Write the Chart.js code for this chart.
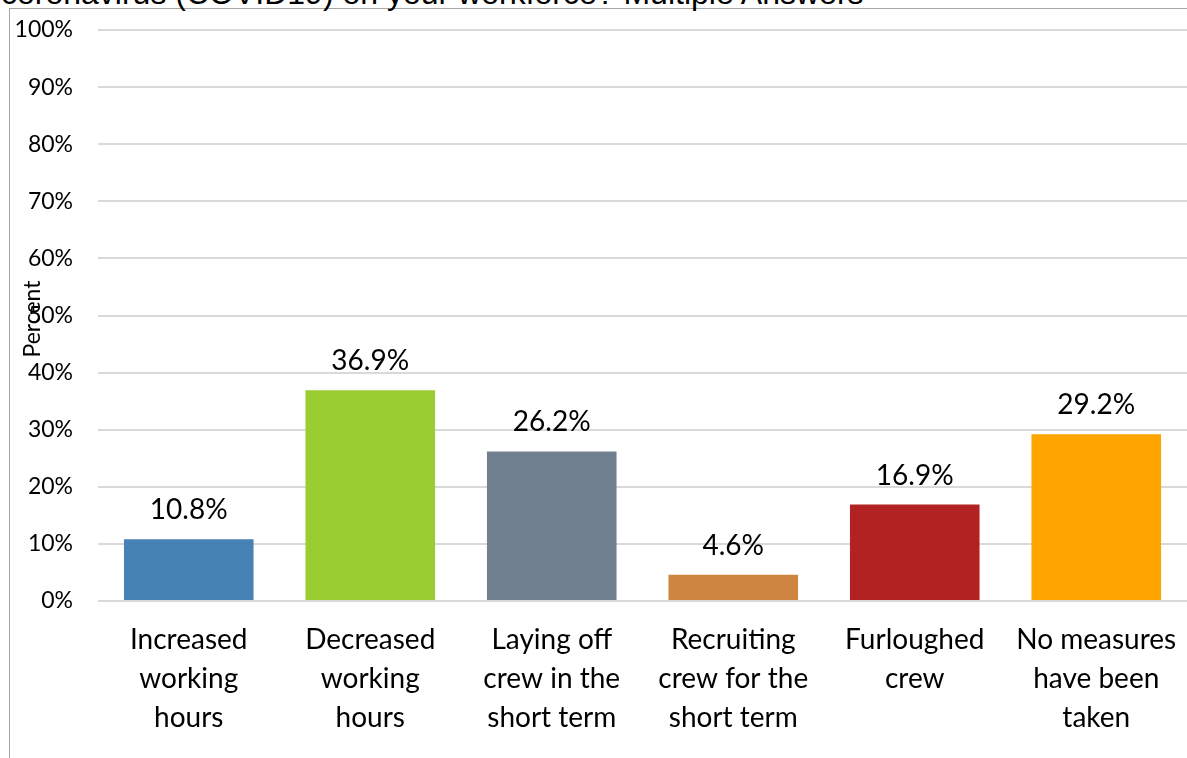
<!DOCTYPE html>
<html>
<head>
<meta charset="utf-8">
<script src="https://cdn.jsdelivr.net/npm/chart.js@4"></script>
<style>
  html, body { margin: 0; padding: 0; background: #fff; overflow: hidden; }
  #wrap { position: relative; width: 1187px; height: 758px; }
  #frame { position: absolute; left: 9px; top: 8px; width: 1200px; height: 780px; border: 1px solid #a6a6a6; box-sizing: border-box; }
  #title { position: absolute; left: 1px; top: -25px; font: 32px "Liberation Sans", Arial, sans-serif; color: #000; white-space: nowrap; }
  canvas { position: absolute; left: 0; top: 0; }
</style>
</head>
<body>
<div id="wrap">
  <div id="frame"></div>
  <div id="title">coronavirus (COVID19) on your workforce? Multiple Answers</div>
  <canvas id="chart" width="1187" height="758"></canvas>
</div>
<script>
const categories = [
  ['Increased', 'working', 'hours'],
  ['Decreased', 'working', 'hours'],
  ['Laying off', 'crew in the', 'short term'],
  ['Recruiting', 'crew for the', 'short term'],
  ['Furloughed', 'crew'],
  ['No measures', 'have been', 'taken']
];
const percentValues = [10.8, 36.9, 26.2, 4.6, 16.9, 29.2];
const barColors = ['#4682B4', '#9ACD32', '#708090', '#CD853F', '#B22222', '#FFA500'];
const yTicks = [0, 10, 20, 30, 40, 50, 60, 70, 80, 90, 100];
const yTitle = 'Percent';

const valueLabels = {
  id: 'valueLabels',
  afterDatasetsDraw(chart) {
    const ctx = chart.ctx;
    const meta = chart.getDatasetMeta(0);
    ctx.save();
    ctx.font = '28px Lato, sans-serif';
    ctx.fillStyle = '#000';
    ctx.textAlign = 'center';
    ctx.textBaseline = 'alphabetic';
    meta.data.forEach((bar, i) => {
      ctx.fillText(percentValues[i].toFixed(1) + '%', bar.x, bar.y - 20);
    });
    ctx.restore();
  }
};

const axisTitle = {
  id: 'axisTitle',
  afterDraw(chart) {
    const ctx = chart.ctx;
    ctx.save();
    ctx.translate(33, 319);
    ctx.rotate(-Math.PI / 2);
    ctx.font = '23px Lato, sans-serif';
    ctx.fillStyle = '#000';
    ctx.textAlign = 'center';
    ctx.textBaseline = 'middle';
    ctx.fillText(yTitle, 0, 0);
    ctx.restore();
  }
};

new Chart(document.getElementById('chart').getContext('2d'), {
  type: 'bar',
  data: {
    labels: categories,
    datasets: [{
      data: percentValues,
      backgroundColor: barColors,
      borderWidth: 0,
      categoryPercentage: 1,
      barPercentage: 0.714
    }]
  },
  options: {
    responsive: false,
    animation: false,
    layout: { padding: { top: 30, right: 0, bottom: 0, left: 0 } },
    plugins: {
      legend: { display: false },
      tooltip: { enabled: false }
    },
    scales: {
      y: {
        min: 0,
        max: 100,
        afterBuildTicks: (scale) => { scale.ticks = yTicks.map((v) => ({ value: v })); },
        afterFit: (scale) => {
          scale.width = 98;
          scale.paddingTop = 0;
          scale.paddingBottom = 0;
        },
        ticks: {
          color: '#000',
          font: { family: 'Lato', size: 23 },
          padding: 25,
          callback: (value) => `${value}%`
        },
        grid: { color: '#d9d9d9', lineWidth: 2, drawTicks: false },
        border: { display: false }
      },
      x: {
        afterFit: (scale) => {
          scale.height = 157;
          scale.paddingLeft = 0;
          scale.paddingRight = 0;
        },
        ticks: {
          color: '#000',
          font: { family: 'Lato', size: 28, lineHeight: 1.39 },
          padding: 20,
          maxRotation: 0,
          autoSkip: false
        },
        grid: { display: false, drawTicks: false },
        border: { display: false }
      }
    }
  },
  plugins: [valueLabels, axisTitle]
});
</script>
</body>
</html>
